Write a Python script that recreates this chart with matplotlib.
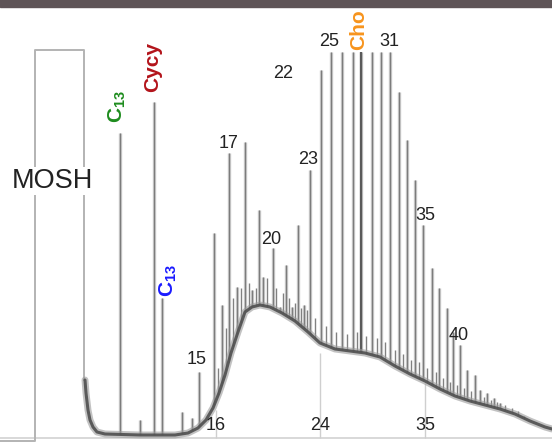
import numpy as np
import matplotlib.pyplot as plt

plt.rcParams['font.family'] = ['Liberation Sans', 'DejaVu Sans']
plt.rcParams['mathtext.fontset'] = 'custom'
plt.rcParams['mathtext.rm'] = 'Liberation Sans'
plt.rcParams['mathtext.bf'] = 'Liberation Sans:bold'

# resolved peaks: retention position and signal at the top
peak_rt = [120, 154, 162, 140, 182, 192, 199, 214, 222, 229, 237, 245, 252, 259, 263,
           273, 280, 286, 292, 298, 304, 310, 321, 331, 342, 353, 361, 372, 381, 390,
           399, 407, 415, 423, 432, 439, 447, 453, 460, 467, 475, 480, 487, 494, 500]
peak_top = [305, 336, 140, 18, 26, 20, 66, 205, 133, 285, 151, 296, 148, 228, 161,
            190, 131, 173, 131, 213, 133, 268, 368, 386, 386, 386, 386, 386, 386, 386,
            346, 298, 258, 213, 170, 150, 130, 106, 93, 68, 63, 48, 45, 40, 35]

# small peaks sitting on the hump
grass_rt = [218, 226, 233, 241, 249, 256, 267, 276, 283, 289, 295, 301, 307, 315, 326,
            336, 347, 357, 366, 377, 385, 395, 403, 411, 419, 427, 436, 443, 450, 457,
            464, 471, 484, 491, 497, 505, 512, 518, 524]
grass_top = [70, 110, 140, 150, 155, 150, 160, 150, 145, 140, 135, 130, 128, 120, 112,
             106, 104, 106, 102, 100, 96, 88, 84, 78, 76, 70, 66, 60, 56, 53,
             50, 47, 41, 38, 36, 33, 30, 27, 22]

# unresolved hump and solvent tail (centre line)
hump_rt = [85, 86, 88, 90, 93, 97, 105, 140, 175, 188, 198, 206, 213, 219, 225, 231,
           238, 245, 252, 260, 270, 282, 295, 308, 320, 335, 350, 365, 380, 395, 410,
           425, 440, 455, 470, 485, 500, 515, 530, 545, 552]
hump_sig = [58, 45, 28, 18, 11, 6, 4, 3, 3, 5, 10, 18, 30, 45, 63, 85,
            106, 126, 131, 133, 131, 125, 117, 106, 95, 89, 87, 85, 81, 72, 64,
            57, 49, 42, 37, 33, 29, 24, 17, 11, 9]

# MOSH box
mosh_left, mosh_right, mosh_top = 35, 84, 388

# guide ticks on the retention axis
guide_rt = [216, 320, 425]
guide_lab = ['16', '24', '35']
guide_top = [28, 85, 55]

# carbon number labels (position, signal)
num_lab = ['17', '22', '25', '31', '23', '20', '35', '40', '15']
num_rt = [229, 283, 329, 389, 308, 271, 425, 459, 197]
num_sig = [295, 365, 396, 396, 279, 199, 223, 103, 79]

fig = plt.figure(figsize=(5.52, 4.42), dpi=100)
ax = fig.add_axes([0, 0, 1, 1])
ax.set_xlim(0, 552)
ax.set_ylim(-4, 438)
ax.axis('off')

# peaks (halo + core)
ax.vlines(peak_rt, -4, peak_top, color='#c6c6c6', lw=2.4, zorder=1)
ax.vlines(peak_rt, -4, peak_top, color='#7c7c7c', lw=0.8, zorder=1)
ax.vlines([361], -4, [386], color='#5a5a5a', lw=1.6, zorder=1)
ax.vlines(grass_rt, -4, grass_top, color='#808080', lw=1.0, zorder=1)

# white below the hump
ax.fill_between(hump_rt, -4, hump_sig, color='white', zorder=2, lw=0)

ax.hlines(0, 0, 552, color='#d2d2d2', lw=1.2, zorder=3)
ax.vlines(guide_rt, 0, guide_top, color='#cfcfcf', lw=1.0, zorder=3)

ax.plot(hump_rt, hump_sig, color='#9a9a9a', lw=5, alpha=0.6,
        solid_capstyle='round', zorder=4)
ax.plot(hump_rt, hump_sig, color='#4f4f4f', lw=2.2, alpha=0.9,
        solid_capstyle='round', zorder=4)

# MOSH box
ax.plot([0, mosh_left, mosh_left, mosh_right, mosh_right],
        [-3, -3, mosh_top, mosh_top, 58], color='#b3b3b3', lw=1.4, zorder=3)

ax.axhspan(431, 440, color='#5e5457', zorder=6)

ax.text(52, 257, 'MOSH', fontsize=19.5, ha='center', va='center', color='#222222',
        bbox=dict(facecolor='white', edgecolor='none', pad=1), zorder=5)

for lab, x, y in zip(num_lab, num_rt, num_sig):
    ax.text(x, y, lab, fontsize=13, ha='center', va='center', color='#222222', zorder=5)
for lab, x in zip(guide_lab, guide_rt):
    ax.text(x, 13, lab, fontsize=13, ha='center', va='center', color='#222222', zorder=5)

ax.text(117, 331, r'$\mathbf{C_{13}}$', fontsize=15, rotation=90, ha='center',
        va='center', color='#1e8c1e', zorder=5)
ax.text(153, 371, 'Cycy', fontsize=15, fontweight='bold', rotation=90, ha='center',
        va='center', color='#b3141b', zorder=5)
ax.text(168, 157, r'$\mathbf{C_{13}}$', fontsize=15, rotation=90, ha='center',
        va='center', color='#1a1aff', zorder=5)
ax.text(359, 408, 'Cho', fontsize=15, fontweight='bold', rotation=90, ha='center',
        va='center', color='#f7941d', zorder=5)

fig.savefig('out.png', dpi=100)
